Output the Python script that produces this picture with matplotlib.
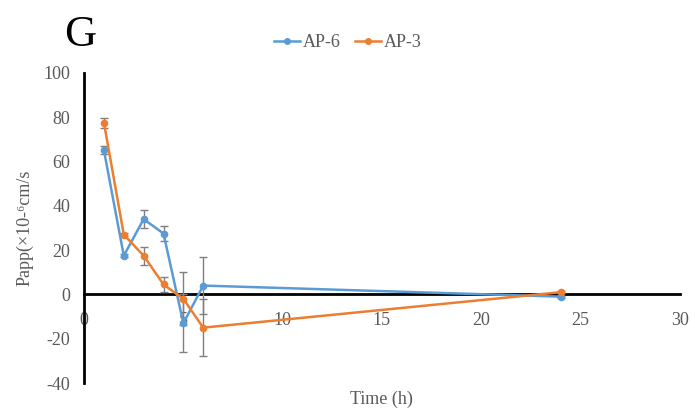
import matplotlib
matplotlib.use("Agg")
import matplotlib.pyplot as plt
from matplotlib.lines import Line2D

time_h = [1, 2, 3, 4, 5, 6, 24]
ap6 = [65, 17.5, 34, 27.5, -13, 4, -1]
ap6_err = [1.8, 0.8, 4, 3.5, 13, 13, 0.5]
ap3 = [77.5, 27, 17.5, 4.5, -2, -15, 1]
ap3_err = [2.3, 0.8, 4, 3.5, 12, 13, 0.5]

plt.rcParams['font.family'] = ['Liberation Serif', 'DejaVu Serif']
plt.rcParams['axes.unicode_minus'] = False

fig = plt.figure(figsize=(6.95, 4.17), dpi=100)
ax = fig.add_axes([0.121, 0.0815, 0.857, 0.7435])

blue = '#5B9BD5'
orange = '#ED7D31'
ax.errorbar(time_h, ap6, yerr=ap6_err, color=blue, marker='o', markersize=4.5,
            linewidth=1.8, ecolor='#7f7f7f', elinewidth=1, capsize=3, capthick=1,
            zorder=3)
ax.errorbar(time_h, ap3, yerr=ap3_err, color=orange, marker='o', markersize=4.5,
            linewidth=1.8, ecolor='#7f7f7f', elinewidth=1, capsize=3, capthick=1,
            zorder=3)

ax.set_xlim(0, 30)
ax.set_ylim(-40, 100)
ax.set_xticks(range(0, 31, 5))
ax.set_yticks(range(-40, 101, 20))
ax.spines['bottom'].set_position(('data', 0))
ax.spines['bottom'].set_linewidth(2)
ax.spines['left'].set_linewidth(2)
ax.spines['top'].set_visible(False)
ax.spines['right'].set_visible(False)
ax.tick_params(axis='both', length=0, labelsize=13, labelcolor='#595959')
ax.tick_params(axis='x', pad=13)
ax.tick_params(axis='y', pad=10)

ax.set_xlabel('Time (h)', fontsize=13, color='#595959')
ax.xaxis.set_label_coords(0.5, -0.025)
ax.set_ylabel('Papp(×10-⁶cm/s', fontsize=13, color='#595959')
ax.yaxis.set_label_coords(-0.085, 0.5)

handles = [Line2D([], [], color=blue, marker='o', markersize=4, linewidth=1.8),
           Line2D([], [], color=orange, marker='o', markersize=4, linewidth=1.8)]
leg = ax.legend(handles, ['AP-6', 'AP-3'], loc='center', bbox_to_anchor=(0.5, 0.897),
                bbox_transform=fig.transFigure,
                ncol=2, frameon=False, fontsize=13, handlelength=1.45,
                handletextpad=0.15, columnspacing=0.8)
for t in leg.get_texts():
    t.set_color('#595959')

fig.text(0.116, 0.915, 'G', fontsize=32, ha='center', va='center', color='black')

fig.savefig('out.png', dpi=100)
